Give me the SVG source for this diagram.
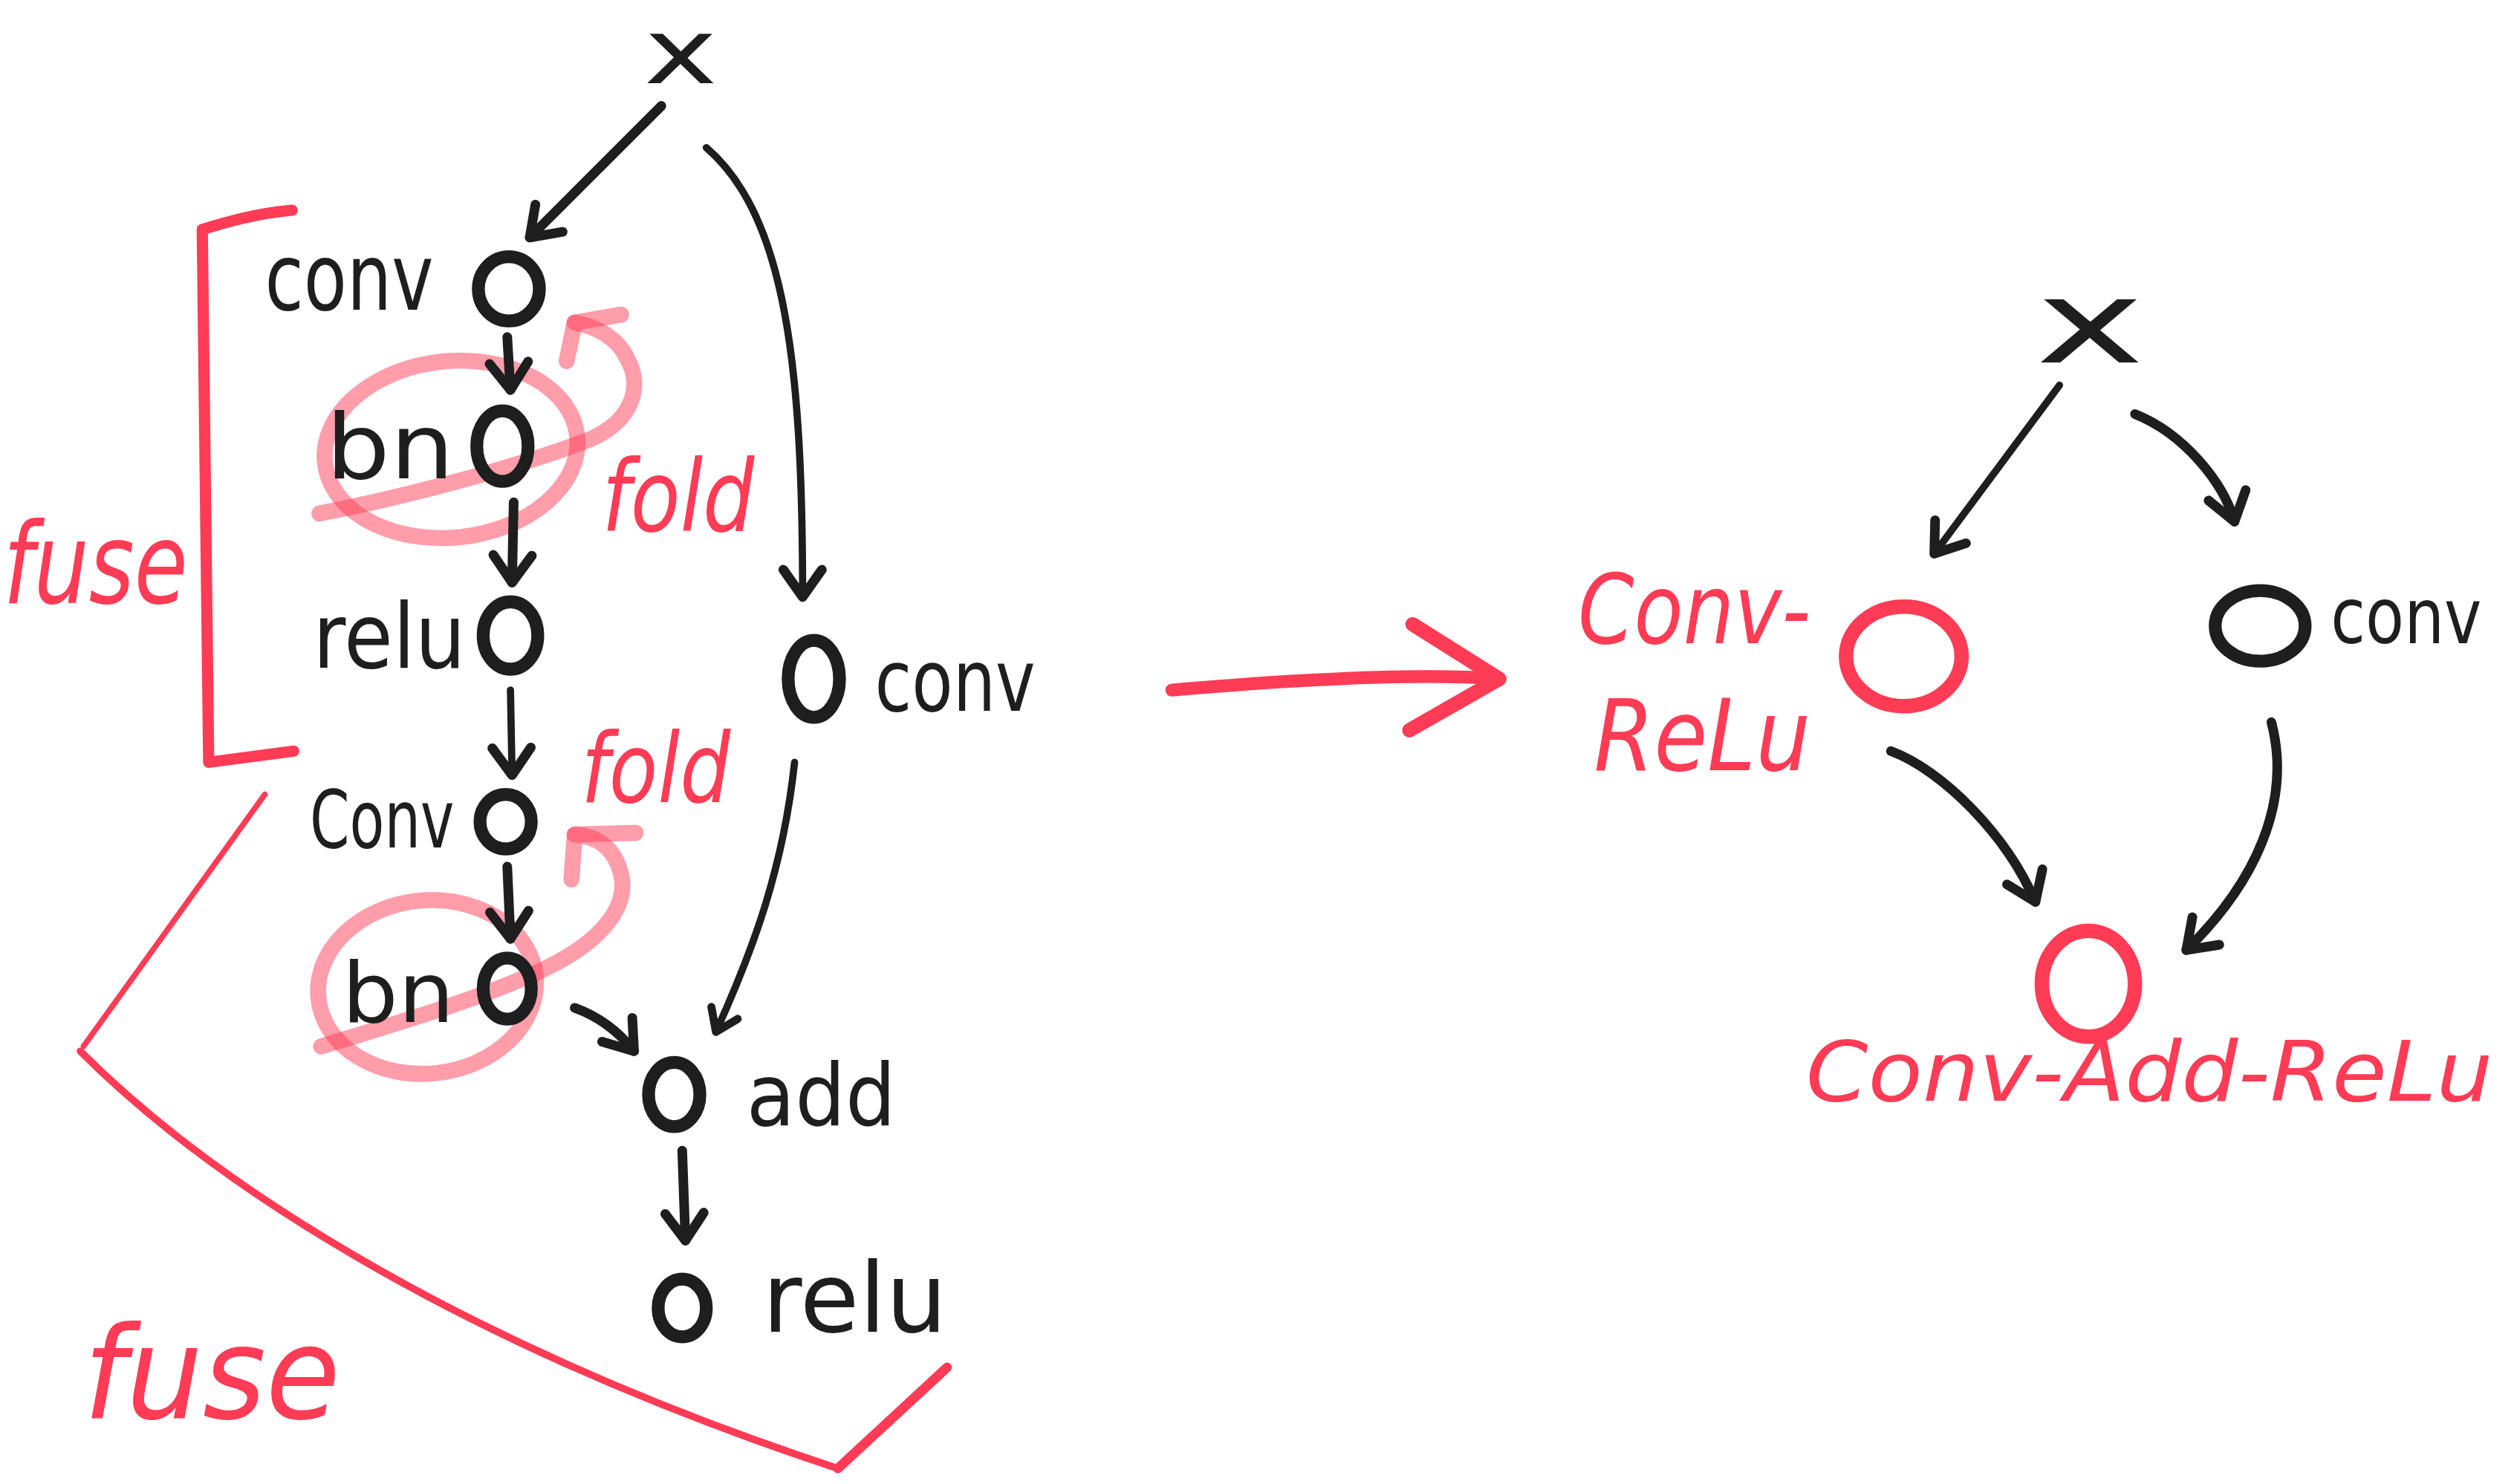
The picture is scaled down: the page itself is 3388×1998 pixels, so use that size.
<svg xmlns="http://www.w3.org/2000/svg" width="3388" height="1998" viewBox="0 0 3388 1998">
<defs>
<style>
.lbl{font-family:"DejaVu Sans","Liberation Sans",sans-serif;fill:#1e1e1e}
.rlbl{font-family:"DejaVu Sans","Liberation Sans",sans-serif;font-style:italic;fill:#ff3b55}
.node{fill:none;stroke:#1e1e1e;stroke-width:8}
.rnode{fill:none;stroke:#ff3b55;stroke-width:9}
.edge{fill:none;stroke:#1e1e1e;stroke-width:4.5;stroke-linecap:round}
.edgeb{fill:none;stroke:#1e1e1e;stroke-width:6;stroke-linecap:round}
.red{fill:none;stroke:#ff3b55;stroke-linecap:round;stroke-linejoin:round}
.pink{fill:none;stroke:#ff3b55;stroke-opacity:0.5;stroke-width:10;stroke-linecap:round;stroke-linejoin:round}
</style>
<marker id="ah" viewBox="-24 -16 28 32" markerWidth="28" markerHeight="32" refX="0" refY="0" orient="auto" markerUnits="userSpaceOnUse">
<path d="M-17,-12 L0,0 L-17,12" fill="none" stroke="#1e1e1e" stroke-width="6" stroke-linecap="round" stroke-linejoin="round"/>
</marker>
<marker id="ahs" viewBox="-18 -12 22 24" markerWidth="22" markerHeight="24" refX="0" refY="0" orient="auto" markerUnits="userSpaceOnUse">
<path d="M-13,-9 L0,0 L-13,9" fill="none" stroke="#1e1e1e" stroke-width="5" stroke-linecap="round" stroke-linejoin="round"/>
</marker>
</defs>
<rect width="3388" height="1998" fill="#ffffff"/>
<g transform="scale(2.160714)">

<!-- annotations: red brackets, pink fold loops, big arrow -->
<g id="annotations">
<path class="red" stroke-width="7" d="M182,131 C160,133 142,138 126,143 L130,475 L183,468"/>
<path class="red" stroke-width="3.5" d="M165,495 L52,652"/>
<path class="red" stroke-width="4.5" d="M50,655 C140,745 300,842 522,915"/>
<path class="red" stroke-width="6" d="M522,915 L590,852"/>
<ellipse class="pink" cx="281" cy="280" rx="79" ry="55" transform="rotate(-6 281 280)"/>
<path class="pink" d="M199,320 C250,310 320,292 367,274 C395,262 400,240 391,224 C385,210 370,203 358,201"/>
<path class="pink" d="M353,225 L358,201 L387,196"/>
<ellipse class="pink" cx="266" cy="615" rx="68" ry="54" transform="rotate(-6 266 615)"/>
<path class="pink" d="M200,652 C240,640 290,625 325,610 C370,592 392,568 387,545 C383,528 372,521 358,520"/>
<path class="pink" d="M356,548 L358,520 L396,519"/>
<path class="red" stroke-width="8" d="M730,430 C800,424 880,419 934,423"/>
<path class="red" stroke-width="9" d="M880,389 L934,423 L878,455"/>
</g>

<!-- connectors -->
<g id="connectors">
<path class="edgeb" marker-end="url(#ah)" d="M412,66 L330,148"/>
<path class="edgeb" marker-end="url(#ah)" d="M316,210 L318,243"/>
<path class="edgeb" marker-end="url(#ah)" d="M320,313 L319,363"/>
<path class="edge" marker-end="url(#ah)" d="M318,430 L319,483"/>
<path class="edgeb" marker-end="url(#ah)" d="M316,540 L318,585"/>
<path class="edgeb" marker-end="url(#ah)" d="M358,628 Q380,636 395,655"/>
<path class="edge" marker-end="url(#ah)" d="M440,92 C490,135 500,230 500,372"/>
<path class="edge" stroke-width="3" marker-end="url(#ahs)" d="M495,475 C488,540 470,590 446,643"/>
<path class="edgeb" marker-end="url(#ah)" d="M425,717 L427,773"/>
<path class="edge" stroke-width="3" marker-end="url(#ah)" d="M1283,240 L1205,345"/>
<path class="edgeb" marker-end="url(#ah)" d="M1330,258 C1360,270 1385,300 1392,325"/>
<path class="edgeb" marker-end="url(#ah)" d="M1178,468 C1210,480 1250,520 1268,562"/>
<path class="edgeb" marker-end="url(#ah)" d="M1415,450 C1428,500 1405,550 1362,592"/>
</g>

<!-- left graph nodes -->
<g id="x-left"><text class="lbl" x="401" y="52" font-size="56" textLength="46" lengthAdjust="spacingAndGlyphs">x</text></g>
<g id="conv1"><ellipse class="node" cx="317" cy="180" rx="19" ry="20"/><text class="lbl" x="165" y="193" font-size="58" textLength="105" lengthAdjust="spacingAndGlyphs">conv</text></g>
<g id="bn1"><ellipse class="node" cx="313" cy="278" rx="16" ry="22"/><text class="lbl" x="203" y="298" font-size="56" textLength="80" lengthAdjust="spacingAndGlyphs">bn</text></g>
<g id="relu1"><ellipse class="node" cx="318" cy="396" rx="17" ry="21"/><text class="lbl" x="195" y="416" font-size="56" textLength="95" lengthAdjust="spacingAndGlyphs">relu</text></g>
<g id="conv-right"><ellipse class="node" cx="507" cy="423" rx="16" ry="24"/><text class="lbl" x="545" y="443" font-size="54" textLength="100" lengthAdjust="spacingAndGlyphs">conv</text></g>
<g id="conv2"><ellipse class="node" cx="315" cy="512" rx="16" ry="17"/><text class="lbl" x="193" y="528" font-size="50" textLength="90" lengthAdjust="spacingAndGlyphs">Conv</text></g>
<g id="bn2"><ellipse class="node" cx="316" cy="616" rx="15" ry="19"/><text class="lbl" x="213" y="637" font-size="52" textLength="70" lengthAdjust="spacingAndGlyphs">bn</text></g>
<g id="add"><ellipse class="node" cx="420" cy="682" rx="16" ry="20"/><text class="lbl" x="465" y="701" font-size="54" textLength="93" lengthAdjust="spacingAndGlyphs">add</text></g>
<g id="relu2"><ellipse class="node" cx="425" cy="815" rx="15" ry="18"/><text class="lbl" x="475" y="830" font-size="60" textLength="115" lengthAdjust="spacingAndGlyphs">relu</text></g>

<!-- annotation labels -->
<g id="fold1"><text class="rlbl" x="375" y="331" font-size="62" textLength="95" lengthAdjust="spacingAndGlyphs">fold</text></g>
<g id="fold2"><text class="rlbl" x="362" y="500" font-size="60" textLength="93" lengthAdjust="spacingAndGlyphs">fold</text></g>
<g id="fuse1"><text class="rlbl" x="2" y="376" font-size="70" textLength="115" lengthAdjust="spacingAndGlyphs">fuse</text></g>
<g id="fuse2"><text class="rlbl" x="52" y="884" font-size="80" textLength="160" lengthAdjust="spacingAndGlyphs">fuse</text></g>

<!-- right graph nodes -->
<g id="x-right"><text class="lbl" x="1268" y="226" font-size="72" textLength="68" lengthAdjust="spacingAndGlyphs">x</text></g>
<g id="conv-relu"><ellipse class="rnode" cx="1186" cy="409" rx="36" ry="31"/><text class="rlbl" x="983" y="401" font-size="60" textLength="145" lengthAdjust="spacingAndGlyphs">Conv-</text><text class="rlbl" x="993" y="480" font-size="62" textLength="135" lengthAdjust="spacingAndGlyphs">ReLu</text></g>
<g id="conv-r2"><ellipse class="node" cx="1408" cy="390" rx="28" ry="22" stroke-width="9"/><text class="lbl" x="1452" y="401" font-size="48" textLength="94" lengthAdjust="spacingAndGlyphs">conv</text></g>
<g id="conv-add-relu"><ellipse class="rnode" cx="1301" cy="613" rx="29" ry="33"/><text class="rlbl" x="1125" y="686" font-size="52" textLength="428" lengthAdjust="spacingAndGlyphs">Conv-Add-ReLu</text></g>
</g>
</svg>
